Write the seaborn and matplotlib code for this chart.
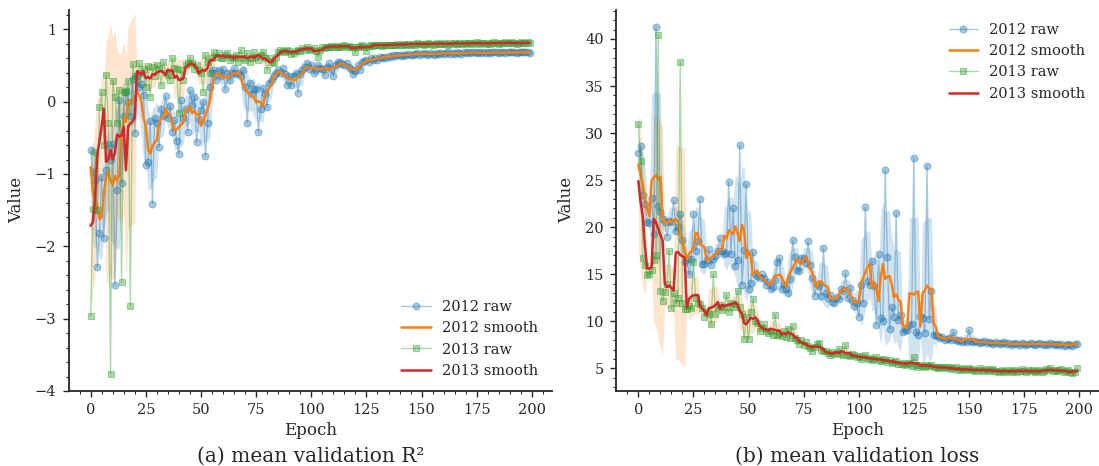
import numpy as np
import pandas as pd
import seaborn as sns
import matplotlib.pyplot as plt
from matplotlib.ticker import AutoMinorLocator, MultipleLocator

# estilo
sns.set_style('ticks')
plt.rcParams['font.family'] = ['DejaVu Serif']

epochs = np.arange(200)

# R2 de validación, 2012 (valores leídos a ojo)
r2_2012 = [
    -0.67, -0.97, -1.08, -2.29, -1.82, -1.04, -1.89, -0.95, -0.59, -0.80,
    -0.59, -2.54, -1.22, 0.02, -1.13, -0.20, 0.14, 0.00, -0.20, 0.32,
    -0.43, 0.35, 0.20, 0.25, 0.09, -0.87, -0.84, -0.27, -1.41, -0.22,
    -0.30, -0.63, -0.10, -0.20, 0.08, -0.23, -0.06, -0.42, -0.26, -0.55,
    -0.72, 0.02, -0.23, -0.10, -0.42, 0.16, -0.05, 0.07, -0.56, -0.24,
    -0.12, 0.00, -0.75, -0.30, 0.20, 0.39, 0.44, 0.30, 0.44, 0.35,
    0.45, 0.17, 0.39, 0.30, 0.39, 0.46, 0.38, 0.40, 0.35, 0.44,
    0.20, -0.29, 0.26, 0.10, 0.18, 0.18, -0.42, -0.10, 0.19, 0.10,
    -0.08, 0.26, 0.30, 0.35, 0.39, 0.44, 0.40, 0.46, 0.38, 0.23,
    0.36, 0.23, 0.36, 0.40, 0.12, 0.38, 0.44, 0.48, 0.54, 0.45,
    0.51, 0.39, 0.44, 0.51, 0.47, 0.45, 0.37, 0.48, 0.53, 0.45,
    0.35, 0.50, 0.55, 0.55, 0.52, 0.50, 0.53, 0.48, 0.45, 0.38,
    0.42, 0.50, 0.44, 0.55, 0.56, 0.58, 0.55, 0.60, 0.57, 0.60,
    0.58, 0.62, 0.60, 0.62, 0.61, 0.63, 0.62, 0.64, 0.63, 0.64,
    0.65, 0.63, 0.65, 0.64, 0.66, 0.65, 0.64, 0.66, 0.67, 0.65,
    0.66, 0.67, 0.66, 0.65, 0.67, 0.66, 0.65, 0.67, 0.66, 0.67,
    0.66, 0.67, 0.68, 0.66, 0.67, 0.66, 0.68, 0.67, 0.66, 0.68,
    0.67, 0.68, 0.67, 0.68, 0.69, 0.67, 0.68, 0.67, 0.68, 0.67,
    0.68, 0.67, 0.68, 0.69, 0.68, 0.67, 0.68, 0.68, 0.67, 0.68,
    0.68, 0.69, 0.68, 0.67, 0.68, 0.68, 0.69, 0.68, 0.68, 0.67,
]

# R2 de validación, 2013
r2_2013 = [
    -2.96, -1.49, -0.70, -1.50, -0.08, 0.13, -0.60, 0.37, -0.30, -3.76,
    0.29, 0.07, -0.29, 0.16, -2.50, 0.14, 0.15, 0.29, -2.82, 0.52,
    0.35, 0.30, 0.53, 0.40, 0.45, 0.20, 0.49, 0.07, 0.48, 0.35,
    0.51, 0.45, 0.23, 0.55, 0.40, 0.37, 0.30, 0.60, 0.46, 0.45,
    -0.16, 0.44, 0.30, 0.50, 0.54, 0.60, 0.53, 0.45, 0.51, 0.44,
    0.40, 0.14, 0.65, 0.55, 0.40, 0.60, 0.68, 0.62, 0.67, 0.60,
    0.60, 0.65, 0.67, 0.58, 0.62, 0.60, 0.64, 0.55, 0.71, 0.60,
    0.58, 0.67, 0.55, 0.60, 0.68, 0.62, 0.58, 0.65, 0.69, 0.60,
    0.44, 0.60, 0.55, 0.53, 0.62, 0.68, 0.71, 0.70, 0.68, 0.72,
    0.70, 0.66, 0.67, 0.70, 0.72, 0.70, 0.74, 0.72, 0.76, 0.73,
    0.72, 0.74, 0.70, 0.62, 0.72, 0.75, 0.74, 0.76, 0.75, 0.77,
    0.76, 0.77, 0.76, 0.75, 0.77, 0.78, 0.76, 0.77, 0.75, 0.76,
    0.68, 0.76, 0.77, 0.78, 0.76, 0.70, 0.77, 0.78, 0.77, 0.79,
    0.78, 0.79, 0.77, 0.78, 0.79, 0.78, 0.79, 0.78, 0.79, 0.80,
    0.79, 0.78, 0.80, 0.79, 0.80, 0.79, 0.80, 0.79, 0.81, 0.80,
    0.80, 0.79, 0.80, 0.81, 0.80, 0.79, 0.80, 0.81, 0.80, 0.80,
    0.81, 0.80, 0.79, 0.81, 0.80, 0.81, 0.80, 0.81, 0.80, 0.81,
    0.80, 0.81, 0.81, 0.80, 0.81, 0.82, 0.80, 0.81, 0.81, 0.80,
    0.81, 0.80, 0.81, 0.82, 0.81, 0.80, 0.81, 0.81, 0.82, 0.81,
    0.81, 0.82, 0.81, 0.80, 0.81, 0.82, 0.81, 0.81, 0.82, 0.81,
]

# pérdida de validación, 2012
loss_2012 = [
    27.9, 28.6, 23.4, 22.5, 20.6, 20.4, 23.1, 19.3, 41.3, 22.3,
    21.6, 20.9, 20.6, 19.0, 20.7, 20.5, 22.9, 19.6, 20.0, 21.4,
    18.6, 16.3, 16.6, 15.0, 16.6, 21.4, 17.5, 18.5, 23.0, 16.1,
    16.1, 16.5, 17.7, 16.0, 16.6, 16.9, 17.5, 18.8, 17.5, 17.1,
    17.3, 24.8, 17.2, 22.0, 15.9, 16.5, 28.7, 13.9, 17.6, 24.6,
    13.4, 14.1, 17.4, 15.0, 14.8, 14.6, 15.0, 14.6, 13.9, 14.2,
    13.4, 13.6, 14.4, 16.3, 16.7, 13.4, 14.0, 13.4, 13.0, 14.5,
    18.6, 16.8, 15.5, 15.3, 16.7, 16.7, 16.2, 18.5, 16.0, 14.6,
    12.7, 14.0, 13.8, 12.7, 17.8, 13.0, 12.5, 12.8, 12.1, 12.0,
    12.6, 12.4, 13.4, 13.2, 15.1, 12.5, 13.5, 12.3, 11.6, 12.0,
    10.5, 13.9, 12.0, 22.1, 14.3, 13.9, 16.4, 13.75, 9.6, 17.1,
    10.4, 10.0, 26.1, 16.8, 9.2, 11.5, 10.5, 21.5, 10.1, 10.7,
    8.9, 9.1, 9.1, 9.6, 9.7, 27.4, 8.9, 8.6, 10.6, 10.4,
    8.75, 26.5, 10.2, 13.2, 8.6, 8.6, 8.4, 8.2, 8.3, 8.0,
    8.1, 8.2, 8.0, 8.9, 8.0, 7.9, 8.0, 7.8, 7.9, 7.8,
    9.1, 7.9, 7.8, 7.9, 7.8, 7.7, 7.8, 7.9, 7.7, 7.8,
    7.7, 7.6, 7.8, 7.7, 7.6, 7.7, 7.8, 7.6, 7.7, 7.5,
    7.6, 7.7, 7.6, 7.5, 7.7, 7.6, 7.5, 7.6, 7.7, 7.6,
    7.5, 7.6, 7.7, 7.6, 7.5, 7.6, 7.5, 7.7, 7.6, 7.5,
    7.6, 7.5, 7.6, 7.4, 7.5, 7.6, 7.5, 7.4, 7.6, 7.6,
]

# pérdida de validación, 2013
loss_2013 = [
    31.0, 27.0, 16.7, 16.0, 14.9, 15.0, 15.5, 16.5, 17.0, 40.4,
    13.2, 12.2, 13.1, 14.0, 17.5, 11.4, 13.0, 11.9, 12.5, 37.6,
    11.9, 11.3, 11.3, 11.6, 11.4, 16.3, 12.5, 12.0, 11.8, 11.4,
    10.5, 11.0, 10.8, 9.7, 15.0, 10.8, 11.5, 11.7, 11.2, 11.5,
    12.8, 11.0, 12.0, 11.5, 11.8, 13.2, 11.5, 10.8, 8.1, 10.5,
    8.1, 11.0, 12.4, 10.0, 9.8, 9.0, 9.3, 9.7, 9.0, 8.8,
    9.0, 8.6, 10.7, 8.5, 8.7, 8.4, 9.0, 8.3, 9.2, 8.2,
    9.5, 8.2, 8.0, 7.6, 8.0, 7.5, 7.8, 7.4, 7.2, 6.9,
    7.3, 7.6, 7.7, 7.0, 6.8, 6.9, 6.6, 6.4, 6.7, 6.5,
    6.6, 7.1, 6.5, 6.4, 7.5, 6.4, 6.3, 6.5, 6.4, 6.2,
    6.3, 6.05, 6.2, 6.4, 6.0, 6.1, 5.9, 6.0, 6.2, 5.9,
    5.8, 6.0, 5.9, 5.7, 5.9, 5.6, 5.7, 5.8, 5.5, 5.5,
    5.6, 5.4, 5.5, 5.6, 5.3, 6.2, 5.4, 5.2, 5.4, 5.3,
    5.2, 5.4, 5.3, 5.35, 5.1, 5.2, 5.0, 5.1, 5.2, 5.0,
    5.1, 5.1, 4.9, 5.0, 5.1, 4.8, 4.9, 5.0, 4.8, 4.9,
    5.0, 4.8, 4.9, 4.7, 4.8, 5.0, 4.7, 4.8, 4.9, 4.7,
    4.8, 4.9, 4.7, 4.6, 4.75, 4.8, 4.6, 4.7, 4.8, 4.6,
    4.7, 4.8, 4.6, 4.7, 4.9, 4.7, 4.6, 4.8, 4.7, 4.8,
    4.6, 4.7, 4.8, 4.6, 4.7, 4.9, 4.8, 5.0, 4.7, 4.8,
    4.7, 4.8, 4.9, 4.6, 4.7, 4.8, 4.6, 4.5, 4.6, 5.0,
]

BLUE, ORANGE, GREEN, RED = '#1f77b4', '#ff7f0e', '#2ca02c', '#d62728'


def panel(ax, raw12, raw13, caption, loc, ylim, ymajor):
    series = [
        (raw12, '2012', BLUE, BLUE, ORANGE, 'o', 5),
        (raw13, '2013', GREEN, ORANGE, RED, 's', 4.5),
    ]
    for raw, year, c_raw, c_band, c_smooth, mk, ms in series:
        s = pd.Series(raw, dtype=float)
        roll = s.rolling(5, center=True, min_periods=1)
        mean, std = roll.mean(), roll.std()
        sns.lineplot(x=epochs, y=s, ax=ax, color=c_raw, alpha=0.4, linewidth=1,
                     marker=mk, markersize=ms, markeredgecolor=c_raw,
                     label=f'{year} raw')
        ax.fill_between(epochs, mean - std, mean + std, color=c_band,
                        alpha=0.2, linewidth=0)
        sns.lineplot(x=epochs, y=mean, ax=ax, color=c_smooth, linewidth=1.8,
                     label=f'{year} smooth')

    ax.set_xlim(-9.95, 208.95)
    ax.set_ylim(*ylim)
    ax.xaxis.set_major_locator(MultipleLocator(25))
    ax.yaxis.set_major_locator(MultipleLocator(ymajor))
    ax.xaxis.set_minor_locator(AutoMinorLocator())
    ax.yaxis.set_minor_locator(AutoMinorLocator())
    ax.tick_params(which='major', length=4, width=1, labelsize=10.5, pad=5)
    ax.tick_params(which='minor', length=2, width=0.8)
    ax.set_xlabel('Epoch', fontsize=12, labelpad=3)
    ax.set_ylabel('Value', fontsize=12, labelpad=7)
    ax.legend(loc=loc, frameon=False, fontsize=10.5)
    sns.despine(ax=ax)
    for sp in ax.spines.values():
        sp.set_linewidth(1.3)
    # título debajo del eje
    ax.text(0.5, -0.172, caption, transform=ax.transAxes, ha='center',
            va='center', fontsize=14.5)


fig = plt.figure(figsize=(10.99, 4.66), dpi=100)
ax1 = fig.add_axes([0.0625, 0.161, 0.4395, 0.818])
ax2 = fig.add_axes([0.5609, 0.161, 0.4389, 0.818])

panel(ax1, r2_2012, r2_2013, '(a) mean validation R²', 'lower right',
      (-4.0, 1.27), 1)
panel(ax2, loss_2012, loss_2013, '(b) mean validation loss', 'upper right',
      (2.6, 43.1), 5)

fig.savefig('out.png', dpi=100)
